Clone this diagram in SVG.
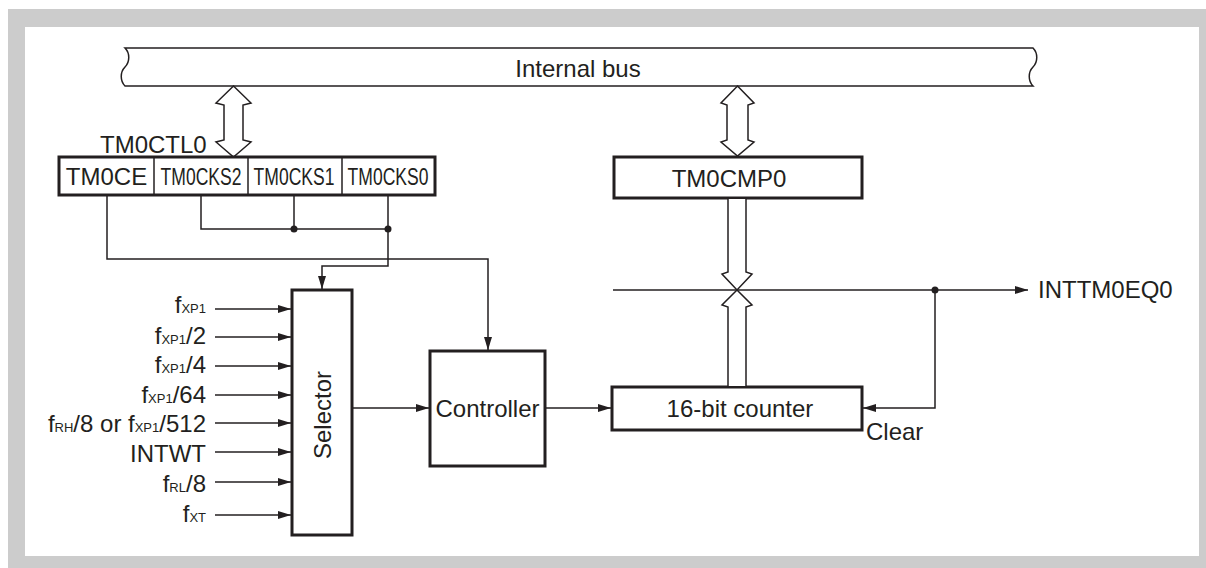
<svg xmlns="http://www.w3.org/2000/svg" width="1206" height="568" viewBox="0 0 1206 568">
<defs>
<style>
.t{font-family:"Liberation Sans",Arial,sans-serif;font-size:24px;fill:#231f20}
.s{font-size:13px}
.box{fill:#fff;stroke:#231f20;stroke-width:3}
.ln{fill:none;stroke:#231f20;stroke-width:1.5}
.bus{fill:#fff;stroke:#231f20;stroke-width:1.5;stroke-linejoin:miter}
.dot{fill:#231f20}
</style>
<marker id="ah" markerUnits="userSpaceOnUse" markerWidth="14" markerHeight="10" refX="13" refY="4" orient="auto">
<path d="M0,0 L13,4 L0,8 z" fill="#231f20"/>
</marker>
</defs>
<rect x="8" y="9" width="1198" height="559" fill="#cccccc"/>
<rect x="25" y="27" width="1174" height="529" fill="#ffffff"/>

<g id="internal-bus">
<path class="bus" d="M125,48 H1033 C1038,53 1038,62 1033,67 C1028,72 1028,81 1033,86 H125 C120,81 120,72 125,67 C130,62 130,53 125,48 Z"/>
<text class="t" x="578" y="77" text-anchor="middle">Internal bus</text>
</g>

<g id="bus-arrow-ctl">
<polygon class="bus" points="233.5,86 251,103 243,105 243,140 251,142 233.5,157 216,142 224,140 224,105 216,103"/>
</g>
<g id="bus-arrow-cmp">
<polygon class="bus" points="737.5,86 754,103 748,105 748,140 754,142 737.5,156 721,142 727,140 727,105 721,103"/>
</g>

<g id="TM0CTL0">
<text class="t" x="100" y="153">TM0CTL0</text>
<rect class="box" x="59" y="157" width="376" height="38"/>
<line class="ln" x1="154" y1="157" x2="154" y2="195"/>
<line class="ln" x1="248" y1="157" x2="248" y2="195"/>
<line class="ln" x1="342" y1="157" x2="342" y2="195"/>
<text class="t" x="106.5" y="185" text-anchor="middle">TM0CE</text>
<text class="t" transform="translate(201,185) scale(0.73,1)" text-anchor="middle">TM0CKS2</text>
<text class="t" transform="translate(294,185) scale(0.73,1)" text-anchor="middle">TM0CKS1</text>
<text class="t" transform="translate(388,185) scale(0.73,1)" text-anchor="middle">TM0CKS0</text>
</g>

<g id="TM0CMP0">
<rect class="box" x="614" y="157" width="248" height="41"/>
<text class="t" x="729" y="187" text-anchor="middle">TM0CMP0</text>
</g>

<g id="selector">
<rect class="box" x="292" y="290" width="60" height="245"/>
<text class="t" transform="translate(331,415) rotate(-90)" x="0" y="0" text-anchor="middle">Selector</text>
</g>

<g id="controller">
<rect class="box" x="430" y="351" width="115" height="115"/>
<text class="t" x="487.5" y="417" text-anchor="middle">Controller</text>
</g>

<g id="counter">
<rect class="box" x="612" y="387" width="250" height="43"/>
<text class="t" x="740" y="417" text-anchor="middle">16-bit counter</text>
</g>

<g id="inputs">
<text class="t" x="206" y="313" text-anchor="end">f<tspan class="s">XP1</tspan></text>
<text class="t" x="206" y="344" text-anchor="end">f<tspan class="s">XP1</tspan>/2</text>
<text class="t" x="206" y="373" text-anchor="end">f<tspan class="s">XP1</tspan>/4</text>
<text class="t" x="206" y="403" text-anchor="end">f<tspan class="s">XP1</tspan>/64</text>
<text class="t" x="206" y="432" text-anchor="end">f<tspan class="s">RH</tspan>/8 or f<tspan class="s">XP1</tspan>/512</text>
<text class="t" x="206" y="462" text-anchor="end">INTWT</text>
<text class="t" x="206" y="492" text-anchor="end">f<tspan class="s">RL</tspan>/8</text>
<text class="t" x="206" y="522" text-anchor="end">f<tspan class="s">XT</tspan></text>
</g>

<g id="labels">
<text class="t" x="1038" y="298">INTTM0EQ0</text>
<text class="t" x="866" y="440">Clear</text>
</g>

<g id="connectors">
<line class="ln" x1="215" y1="309" x2="291" y2="309" marker-end="url(#ah)"/>
<line class="ln" x1="215" y1="337" x2="291" y2="337" marker-end="url(#ah)"/>
<line class="ln" x1="215" y1="366" x2="291" y2="366" marker-end="url(#ah)"/>
<line class="ln" x1="215" y1="395" x2="291" y2="395" marker-end="url(#ah)"/>
<line class="ln" x1="215" y1="423" x2="291" y2="423" marker-end="url(#ah)"/>
<line class="ln" x1="215" y1="452" x2="291" y2="452" marker-end="url(#ah)"/>
<line class="ln" x1="215" y1="482" x2="291" y2="482" marker-end="url(#ah)"/>
<line class="ln" x1="215" y1="515" x2="291" y2="515" marker-end="url(#ah)"/>

<polyline class="ln" points="107,196 107,259 488,259 488,350" marker-end="url(#ah)"/>
<polyline class="ln" points="201,196 201,229 388,229"/>
<line class="ln" x1="294" y1="196" x2="294" y2="229"/>
<polyline class="ln" points="388,196 388,266 322,266 322,289" marker-end="url(#ah)"/>
<circle class="dot" cx="294" cy="229" r="3.5"/>
<circle class="dot" cx="388" cy="229" r="3.5"/>

<line class="ln" x1="352" y1="408" x2="429" y2="408" marker-end="url(#ah)"/>
<line class="ln" x1="545" y1="408" x2="611" y2="408" marker-end="url(#ah)"/>

<line class="ln" x1="613" y1="290" x2="1028" y2="290" marker-end="url(#ah)"/>
<circle class="dot" cx="935" cy="290" r="3.5"/>
<polyline class="ln" points="935,290 935,408 863,408" marker-end="url(#ah)"/>

<polyline class="bus" points="728,199 728,272 722,274 737,290 752,274 746,272 746,199"/>
<polyline class="bus" points="728,386 728,307 722,305 737,290 752,305 746,307 746,386"/>
</g>
</svg>
